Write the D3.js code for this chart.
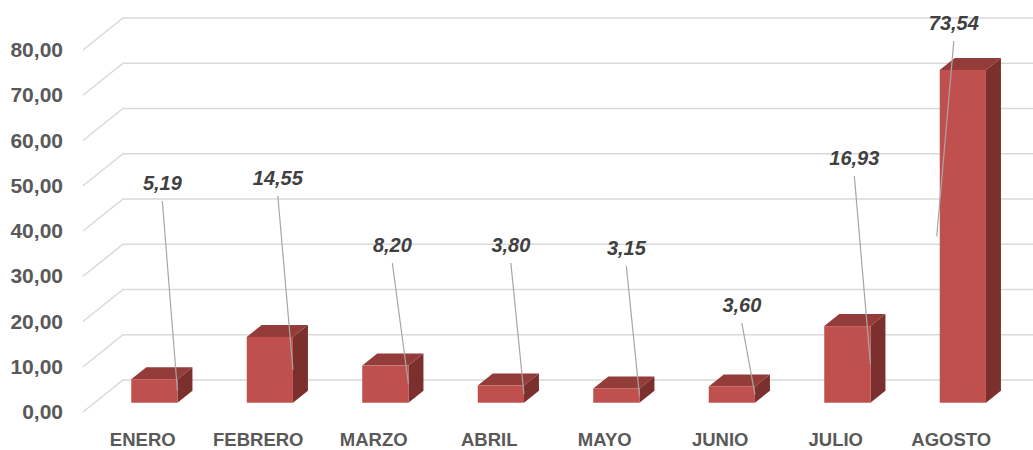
<!DOCTYPE html>
<html lang="es">
<head>
    <meta charset="utf-8">
    <title>Meses</title>
    <script src="https://d3js.org/d3.v7.min.js" charset="utf-8"></script>
    <style type="text/css">
        body { margin: 0; background: #fff; }
        .grid { fill: none; stroke: #d9d9d9; stroke-width: 1.5; }
        .front { fill: #c0504d; }
        .top { fill: #943c3a; }
        .side { fill: #7b302e; }
        .leader { stroke: #a6a6a6; stroke-width: 1.2; fill: none; }
        .vlabel { font-family: "Liberation Sans", Arial, sans-serif; font-weight: bold; font-style: italic; font-size: 20px; fill: #404040; }
        .yaxis text { font-family: "Liberation Sans", Arial, sans-serif; font-weight: bold; font-size: 21px; fill: #595959; }
        .xlabel { font-family: "Liberation Sans", Arial, sans-serif; font-weight: bold; font-size: 18.5px; fill: #595959; }
    </style>
</head>
<body>
    <script type="text/javascript">
    // data
    var months = ["ENERO", "FEBRERO", "MARZO", "ABRIL", "MAYO", "JUNIO", "JULIO", "AGOSTO"];
    var values = [5.19, 14.55, 8.20, 3.80, 3.15, 3.60, 16.93, 73.54];
    var yTicks = [0, 10, 20, 30, 40, 50, 60, 70, 80];
    // where the (dragged) data labels sit: level in value units, x shift in px
    var labelLevel = [47.0, 48.1, 33.3, 33.3, 32.6, 20.0, 52.5, 82.4];
    var labelShift = [8, 8, 7, 10, 10, 10, 7, -9];

    var width = 1033, height = 450;
    var depthX = 40, depthY = -32;      // front -> back wall
    var barT0 = 0.29, barT1 = 0.665;    // bar depth (fraction of floor)

    var svg = d3.select("body").append("svg")
        .attr("width", width)
        .attr("height", height);

    var loc = d3.formatLocale({ decimal: ",", thousands: ".", grouping: [3], currency: ["", "€"] });
    var fmt = loc.format(".2f");

    // front plane scales
    var x = d3.scaleBand()
        .domain(months)
        .range([85, 1009])
        .paddingInner(0.6)
        .paddingOuter(0.3);
    var y = d3.scaleLinear()
        .domain([0, 80])
        .range([412, 50]);

    function px(xf, t) { return xf + depthX * t; }
    function py(yf, t) { return yf + depthY * t; }

    // gridlines (left wall diagonal + back wall)
    svg.append("g").selectAll("path")
        .data(yTicks)
        .enter()
        .append("path")
        .attr("class", "grid")
        .attr("d", function (d) {
            var yf = y(d);
            return "M" + 83 + "," + yf + "L" + px(83, 1) + "," + py(yf, 1) + "L" + width + "," + py(yf, 1);
        });

    // y axis
    svg.append("g")
        .attr("class", "yaxis")
        .attr("transform", "translate(83,0)")
        .call(d3.axisLeft(y).tickValues(yTicks).tickFormat(fmt).tickSize(0).tickPadding(20))
        .call(function (g) { g.select(".domain").remove(); });

    // bars
    var bars = svg.append("g").selectAll("g")
        .data(values)
        .enter()
        .append("g");

    bars.append("path")
        .attr("class", "top")
        .attr("d", function (d, i) {
            var x0 = x(months[i]), x1 = x0 + x.bandwidth(), yv = y(d);
            return "M" + px(x0, barT0) + "," + py(yv, barT0) +
                "L" + px(x0, barT1) + "," + py(yv, barT1) +
                "L" + px(x1, barT1) + "," + py(yv, barT1) +
                "L" + px(x1, barT0) + "," + py(yv, barT0) + "Z";
        });
    bars.append("path")
        .attr("class", "side")
        .attr("d", function (d, i) {
            var x1 = x(months[i]) + x.bandwidth(), yv = y(d), y0 = y(0);
            return "M" + px(x1, barT0) + "," + py(yv, barT0) +
                "L" + px(x1, barT1) + "," + py(yv, barT1) +
                "L" + px(x1, barT1) + "," + py(y0, barT1) +
                "L" + px(x1, barT0) + "," + py(y0, barT0) + "Z";
        });
    bars.append("rect")
        .attr("class", "front")
        .attr("x", function (d, i) { return px(x(months[i]), barT0); })
        .attr("y", function (d) { return py(y(d), barT0); })
        .attr("width", x.bandwidth())
        .attr("height", function (d) { return y(0) - y(d); });

    // leader lines + labels
    function labelX(i) { return px(x(months[i]) + x.bandwidth() / 2, barT0) + labelShift[i]; }
    function labelY(i) { return py(y(labelLevel[i]), barT0); }

    svg.append("g").selectAll("line")
        .data(values)
        .enter()
        .append("line")
        .attr("class", "leader")
        .attr("x1", function (d, i) { return labelX(i); })
        .attr("y1", function (d, i) { return labelY(i) + 11; })
        .attr("x2", function (d, i) {
            var x0 = px(x(months[i]), barT0);
            return labelShift[i] < 0 ? x0 - 3 : x0 + x.bandwidth();
        })
        .attr("y2", function (d) { return py((y(d) + y(0)) / 2, barT0); });

    svg.append("g").selectAll("text")
        .data(values)
        .enter()
        .append("text")
        .attr("class", "vlabel")
        .attr("text-anchor", "middle")
        .attr("x", function (d, i) { return labelX(i); })
        .attr("y", function (d, i) { return labelY(i); })
        .text(function (d) { return fmt(d); });

    // category labels
    svg.append("g").selectAll("text")
        .data(months)
        .enter()
        .append("text")
        .attr("class", "xlabel")
        .attr("text-anchor", "middle")
        .attr("x", function (d) { return x(d) + x.bandwidth() / 2; })
        .attr("y", 446)
        .text(function (d) { return d; });
    </script>
</body>
</html>
